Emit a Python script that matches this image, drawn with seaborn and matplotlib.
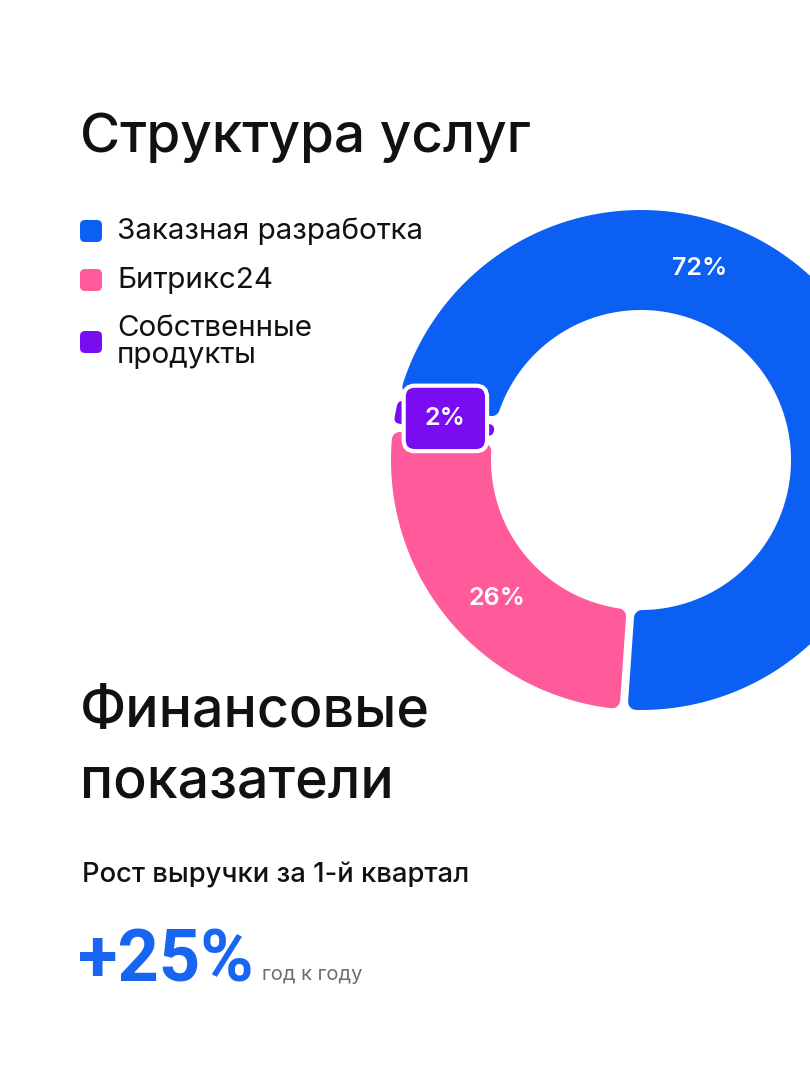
import numpy as np
import matplotlib
matplotlib.use("Agg")
import matplotlib.pyplot as plt
from matplotlib.patches import Polygon, FancyBboxPatch
import seaborn as sns

# data
categories = ["Заказная разработка", "Собственные продукты", "Битрикс24"]
shares = [72, 2, 26]
pct_labels = ["72%", "2%", "26%"]
legend_order = ["Заказная разработка", "Битрикс24", "Собственные\nпродукты"]
growth_label = "+25%"

colors = {"Заказная разработка": "#0B5FF2",
          "Собственные продукты": "#7A0CF2",
          "Битрикс24": "#FF5B9B"}

sns.set_theme(style="white")
plt.rcParams["font.family"] = ["Inter", "DejaVu Sans"]

W, H = 810, 1080
fig = plt.figure(figsize=(8.1, 10.8), dpi=100)
ax = fig.add_axes([0, 0, 1, 1])

# donut geometry (pixels, y up)
cx, cy = 641, H - 460
R, r = 250, 150
gap = 8
corner = 8

wedges, _ = ax.pie(shares, startangle=-94, center=(cx, cy), radius=R,
                   colors=[colors[c] for c in categories],
                   wedgeprops=dict(width=R - r))


def rounded_segment(t1, t2, color):
    span = np.radians(t2 - t1)
    s = np.sin(span / 2)
    rr = min(corner, 0.8 * (r * s - gap / 2) / (1 - s))
    ro, ri = R - rr, r + rr
    off_o = np.arcsin((gap / 2 + rr) / ro)
    off_i = np.arcsin((gap / 2 + rr) / ri)
    a1, a2 = np.radians(t1), np.radians(t2)
    ao = np.linspace(a1 + off_o, a2 - off_o, 200)
    ai = np.linspace(a2 - off_i, a1 + off_i, 200)
    xs = np.concatenate([cx + ro * np.cos(ao), cx + ri * np.cos(ai)])
    ys = np.concatenate([cy + ro * np.sin(ao), cy + ri * np.sin(ai)])
    poly = Polygon(np.column_stack([xs, ys]), closed=True, facecolor=color,
                   edgecolor=color, linewidth=2 * rr * 72 / 100,
                   joinstyle="round")
    ax.add_patch(poly)


for w, c in zip(wedges, categories):
    rounded_segment(w.theta1, w.theta2, colors[c])
    w.remove()

# percent labels (small slices get a tag in the slice colour)
label_angles = [73, 168, 224]
for lab, ang, val, c in zip(pct_labels, label_angles, shares, categories):
    a = np.radians(ang)
    box = None
    if val < 5:
        box = dict(boxstyle="round,pad=0.85,rounding_size=0.45",
                   facecolor=colors[c], edgecolor="white", linewidth=3)
    ax.text(cx + 200 * np.cos(a), cy + 200 * np.sin(a), lab, color="white",
            fontsize=18, fontweight="semibold", ha="center", va="center",
            bbox=box, zorder=5)

# headings
ax.text(80, H - 152, "Структура услуг", fontsize=39.5, fontweight="medium",
        color="#111111", ha="left", va="baseline")

# legend
legend_y = [231, 280, 342]
for lab, y in zip(legend_order, legend_y):
    key = lab.replace("\n", " ")
    ax.add_patch(FancyBboxPatch((83, H - y - 8), 16, 16,
                                boxstyle="round,pad=3,rounding_size=5",
                                facecolor=colors[key], edgecolor="none"))
    ax.text(117, H - y, lab, fontsize=21.3, color="#111111", ha="left",
            va="center", linespacing=1.0)

ax.text(80, H - 727, "Финансовые", fontsize=40, fontweight="medium",
        color="#111111", ha="left", va="baseline")
ax.text(80, H - 797, "показатели", fontsize=40, fontweight="medium",
        color="#111111", ha="left", va="baseline")

ax.text(82, H - 875, "Рост выручки за 1-й квартал", fontsize=19.7,
        fontweight="medium", color="#111111", ha="left", va="center")
ax.text(78, H - 982, growth_label, fontsize=52, fontweight="bold",
        color="#1765F0", ha="left", va="baseline", family=["Roboto", "DejaVu Sans"])
ax.text(262, H - 980, "год к году", fontsize=14.5, color="#6E6E6E",
        ha="left", va="baseline")

ax.set_xlim(0, W)
ax.set_ylim(0, H)
ax.set_aspect("auto")
ax.axis("off")

fig.savefig("out.png", dpi=100, facecolor="white")
